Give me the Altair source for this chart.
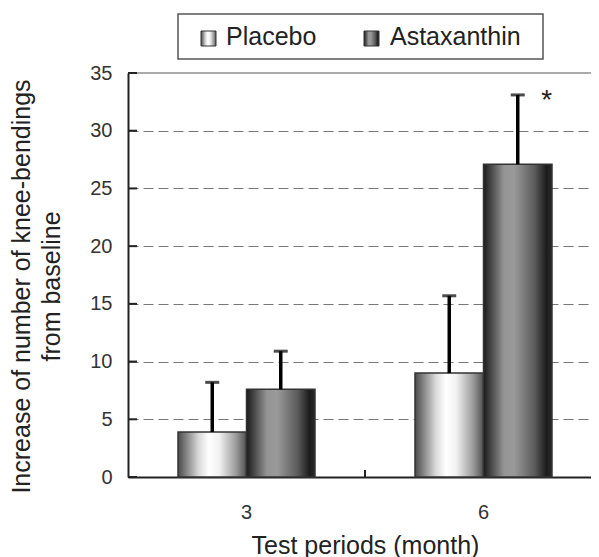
import altair as alt
import pandas as pd

# ---- data ----
periods = ["3", "6"]
groups = ["Placebo", "Astaxanthin"]
placebo_mean = [3.9, 9.0]
placebo_err = [4.3, 6.7]
astax_mean = [7.6, 27.1]
astax_err = [3.3, 6.0]
sig_marks = ["", "*"]          # significance marks for Astaxanthin per period
y_ticks = [0, 5, 10, 15, 20, 25, 30, 35]

rows = []
for i, p in enumerate(periods):
    rows.append({"period": p, "group": "Placebo", "mean": placebo_mean[i],
                 "top": placebo_mean[i] + placebo_err[i], "sig": ""})
    rows.append({"period": p, "group": "Astaxanthin", "mean": astax_mean[i],
                 "top": astax_mean[i] + astax_err[i], "sig": sig_marks[i]})
df = pd.DataFrame(rows)
ticks_df = pd.DataFrame({"v": y_ticks})
dummy = pd.DataFrame({"d": [0]})

FONT = "Liberation Sans"
W, H = 463, 404


def grad(stops):
    return alt.Gradient(gradient="linear", x1=0, x2=1, y1=0, y2=0,
                        stops=[alt.GradientStop(offset=o, color=c) for o, c in stops])


placebo_grad = grad([(0, "#4a4a4a"), (0.3, "#d8d8d8"), (0.45, "#ffffff"),
                     (0.6, "#f2f2f2"), (0.85, "#9a9a9a"), (1, "#505050")])
astax_grad = grad([(0, "#1a1a1a"), (0.3, "#959595"), (0.45, "#999999"),
                   (0.75, "#5a5a5a"), (0.92, "#1c1c1c"), (1, "#2a2a2a")])

x_enc = alt.X("period:N", sort=periods,
              scale=alt.Scale(range=[0, 474], paddingInner=0.422, paddingOuter=0.211),
              axis=alt.Axis(title="Test periods (month)", ticks=False, domain=True,
                            domainColor="#222", domainWidth=2, labelAngle=0,
                            labelPadding=25, labelFontSize=20, labelColor="#333",
                            labelFont=FONT, titleFont=FONT, titleFontSize=25,
                            titleFontWeight="normal", titleColor="#222",
                            titlePadding=11))
xoff = alt.XOffset("group:N", sort=groups)
y_scale = alt.Scale(domain=[0, 35], nice=False)
y_enc = alt.Y("mean:Q", scale=y_scale,
              axis=alt.Axis(values=y_ticks, title=["Increase of number of knee-bendings", "from baseline"],
                            grid=True, gridDash=[10, 5], gridColor="#777", gridWidth=1.2,
                            domainColor="#222", domainWidth=2, ticks=False,
                            labelPadding=16, labelFontSize=20, labelColor="#333",
                            labelFont=FONT, titleFont=FONT, titleFontSize=25,
                            titleFontWeight="normal", titleColor="#222",
                            titleLineHeight=30, titlePadding=25, titleY=213))

base = alt.Chart(df)

bars_p = base.transform_filter(alt.datum.group == "Placebo").mark_bar(
    fill=placebo_grad, stroke="#333", strokeWidth=1.5).encode(x=x_enc, xOffset=xoff, y=y_enc)
bars_a = base.transform_filter(alt.datum.group == "Astaxanthin").mark_bar(
    fill=astax_grad, stroke="#333", strokeWidth=1.5).encode(x=x_enc, xOffset=xoff, y=y_enc)

err = base.mark_rule(color="black", strokeWidth=3.5).encode(
    x=x_enc, xOffset=xoff, y=alt.Y("mean:Q", scale=y_scale), y2="top:Q")
caps = base.mark_tick(color="black", thickness=3, size=14).encode(
    x=x_enc, xOffset=xoff, y=alt.Y("top:Q", scale=y_scale))
stars = base.mark_text(fontSize=28, font=FONT, dx=29, dy=14, baseline="alphabetic",
                       color="#222").encode(
    x=x_enc, xOffset=xoff, y=alt.Y("top:Q", scale=y_scale), text="sig:N")

# inward y-axis ticks
y_tick_marks = alt.Chart(ticks_df).mark_rule(color="#222", strokeWidth=2).encode(
    y=alt.Y("v:Q", scale=y_scale), x=alt.value(0), x2=alt.value(9))

top_line = alt.Chart(dummy).mark_rule(color="#aaa", strokeWidth=2).encode(
    y=alt.datum(35), x=alt.value(9), x2=alt.value(480))
mid_tick = alt.Chart(dummy).mark_rule(color="#222", strokeWidth=2).encode(
    x=alt.value(237), y=alt.value(H), y2=alt.value(H - 7))

# ---- hand-drawn legend (gradient swatches) ----
leg_box = alt.Chart(dummy).mark_rect(fill="white", stroke="#555", strokeWidth=1.5).encode(
    x=alt.value(50), x2=alt.value(415), y=alt.value(-59), y2=alt.value(-14))
sw_p = alt.Chart(dummy).mark_rect(fill=placebo_grad, stroke="#333", strokeWidth=1).encode(
    x=alt.value(73), x2=alt.value(88), y=alt.value(-42), y2=alt.value(-27))
sw_a = alt.Chart(dummy).mark_rect(fill=astax_grad, stroke="#333", strokeWidth=1).encode(
    x=alt.value(236), x2=alt.value(251), y=alt.value(-42), y2=alt.value(-27))
txt_p = alt.Chart(dummy).mark_text(align="left", baseline="alphabetic", fontSize=25,
                                   font=FONT, color="#222").encode(
    x=alt.value(98), y=alt.value(-28), text=alt.value(groups[0]))
txt_a = alt.Chart(dummy).mark_text(align="left", baseline="alphabetic", fontSize=25,
                                   font=FONT, color="#222").encode(
    x=alt.value(262), y=alt.value(-28), text=alt.value(groups[1]))

chart = alt.layer(bars_p, bars_a, err, caps, stars, y_tick_marks, top_line, mid_tick,
                  leg_box, sw_p, sw_a, txt_p, txt_a).properties(
    width=W, height=H,
    autosize=alt.AutoSizeParams(type="none"),
    padding={"left": 120, "top": 65, "right": 0, "bottom": 80},
).configure_view(stroke=None).configure(background="white")

chart.save("out.html", embed_options={"renderer": "svg", "actions": False})
